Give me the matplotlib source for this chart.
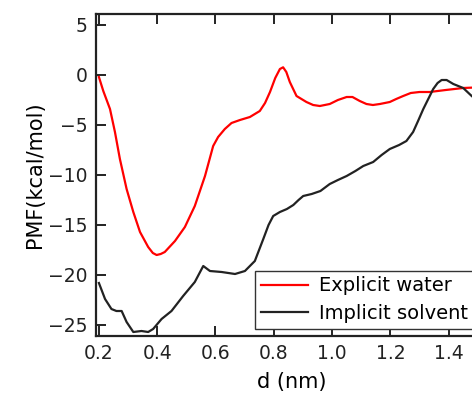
import matplotlib
matplotlib.use("Agg")
import matplotlib.pyplot as plt

# -- Data --------------------------------------------------------------------
d_explicit = [0.200, 0.215, 0.238, 0.255, 0.272, 0.295, 0.318, 0.341, 0.369,
              0.385, 0.398, 0.412, 0.426, 0.461, 0.495, 0.529, 0.564, 0.592,
              0.609, 0.632, 0.655, 0.684, 0.718, 0.752, 0.770, 0.787, 0.805,
              0.821, 0.832, 0.843, 0.855, 0.878, 0.912, 0.935, 0.958, 0.992,
              1.020, 1.050, 1.070, 1.095, 1.118, 1.140, 1.164, 1.198, 1.220,
              1.244, 1.270, 1.300, 1.335, 1.390, 1.450, 1.530]
pmf_explicit = [-0.2, -1.6, -3.4, -5.7, -8.4, -11.4, -13.7, -15.7, -17.2,
                -17.8, -18.0, -17.9, -17.7, -16.6, -15.2, -13.1, -10.1, -7.1,
                -6.2, -5.4, -4.8, -4.5, -4.2, -3.6, -2.8, -1.7, -0.3,
                0.6, 0.77, 0.3, -0.7, -2.1, -2.7, -3.0, -3.1, -2.9,
                -2.5, -2.2, -2.2, -2.6, -2.9, -3.0, -2.9, -2.7, -2.4,
                -2.1, -1.8, -1.7, -1.7, -1.5, -1.3, -1.2]

d_implicit = [0.200, 0.221, 0.243, 0.260, 0.278, 0.295, 0.318, 0.346, 0.369,
              0.386, 0.415, 0.449, 0.489, 0.529, 0.558, 0.581, 0.621, 0.667,
              0.701, 0.735, 0.764, 0.782, 0.798, 0.821, 0.845, 0.867, 0.885,
              0.901, 0.930, 0.960, 0.992, 1.020, 1.050, 1.080, 1.107, 1.141,
              1.170, 1.198, 1.230, 1.255, 1.278, 1.295, 1.313, 1.330, 1.347,
              1.362, 1.376, 1.393, 1.416, 1.450, 1.479, 1.530]
pmf_implicit = [-20.8, -22.4, -23.4, -23.6, -23.6, -24.7, -25.7, -25.6, -25.7,
                -25.4, -24.4, -23.6, -22.1, -20.7, -19.1, -19.6, -19.7, -19.9,
                -19.6, -18.6, -16.4, -15.0, -14.1, -13.7, -13.4, -13.0, -12.5,
                -12.1, -11.9, -11.6, -10.9, -10.5, -10.1, -9.6, -9.1, -8.7,
                -8.0, -7.4, -7.0, -6.6, -5.7, -4.6, -3.4, -2.4, -1.4,
                -0.8, -0.5, -0.5, -0.9, -1.3, -2.1, -3.3]

x_ticks = [0.2, 0.4, 0.6, 0.8, 1.0, 1.2, 1.4]
y_ticks = [5, 0, -5, -10, -15, -20, -25]

# -- Figure ------------------------------------------------------------------
fig = plt.figure(figsize=(4.72, 3.94), dpi=100)
ax = fig.add_axes([96 / 472, 1 - 336 / 394, (488 - 96) / 472, (336 - 14) / 394])
ax.patch.set_visible(False)

ax.plot(d_explicit, pmf_explicit, color="#ff0000", linewidth=1.6,
        label="Explicit water", solid_joinstyle="round")
ax.plot(d_implicit, pmf_implicit, color="#222222", linewidth=1.6,
        label="Implicit solvent", solid_joinstyle="round")

ax.set_xlim(0.19, 1.535)
ax.set_ylim(-26.1, 6.1)
ax.set_xticks(x_ticks)
ax.set_xticklabels([f"{t:.1f}" for t in x_ticks])
ax.set_yticks(y_ticks)

ax.tick_params(direction="in", length=7, width=1.4, labelsize=13.5,
               top=True, right=True, pad=6, colors="#222222")
for spine in ax.spines.values():
    spine.set_linewidth(1.6)
    spine.set_edgecolor("#222222")

ax.set_xlabel("d (nm)", fontsize=15, labelpad=6)
ax.set_ylabel("PMF(kcal/mol)", fontsize=15, labelpad=2)

leg = fig.legend(loc="lower left", bbox_to_anchor=(255 / 472, 1 - 329 / 394),
                 fontsize=14, frameon=True, fancybox=False,
                 edgecolor="#333333", framealpha=1, handlelength=2.4,
                 borderaxespad=0, borderpad=0.3, labelspacing=0.45,
                 handletextpad=0.6)
leg.get_frame().set_linewidth(1.0)

fig.savefig("out.png", dpi=100)
